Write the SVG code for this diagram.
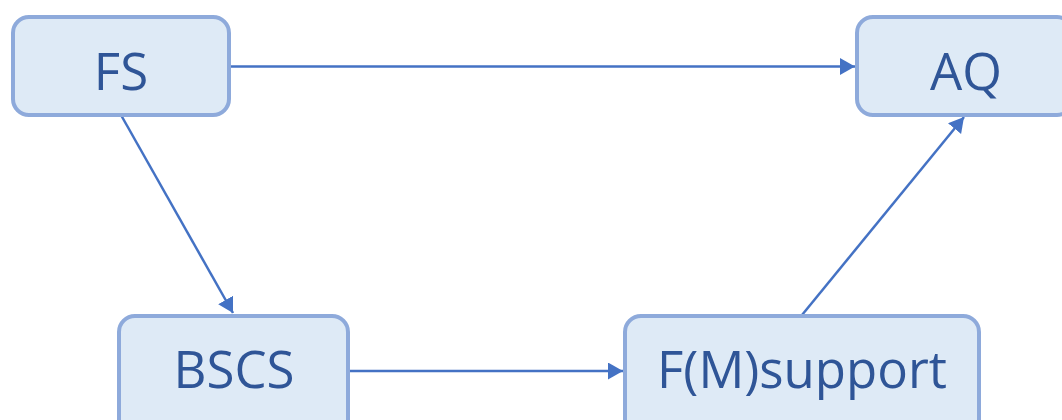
<svg xmlns="http://www.w3.org/2000/svg" width="1062" height="420" viewBox="0 0 1062 420">
  <style>
    .box { fill: #DEEAF6; stroke: #8EAADB; stroke-width: 4; }
    .lbl { font-family: "Open Sans", "Liberation Sans", sans-serif; font-size: 51px; fill: #2F5597; text-anchor: middle; }
    .edge { stroke: #4472C4; stroke-width: 2.5; fill: none; }
  </style>
  <defs>
    <marker id="arr" markerUnits="userSpaceOnUse" markerWidth="17" markerHeight="18" refX="15" refY="8.5" orient="auto">
      <path d="M0,0 L15,8.5 L0,17 Z" fill="#4472C4"/>
    </marker>
  </defs>
  <rect width="1062" height="420" fill="#FFFFFF"/>
  <g id="connectors">
    <line class="edge" x1="231" y1="66.5" x2="855" y2="66.5" marker-end="url(#arr)"/>
    <line class="edge" x1="121" y1="115" x2="233" y2="313" marker-end="url(#arr)"/>
    <line class="edge" x1="350" y1="371" x2="623" y2="371" marker-end="url(#arr)"/>
    <line class="edge" x1="802" y1="315" x2="964" y2="117" marker-end="url(#arr)"/>
  </g>
  <g id="node-FS">
    <rect class="box" x="13" y="17" width="216" height="98" rx="16"/>
    <text class="lbl" x="121" y="90">FS</text>
  </g>
  <g id="node-AQ">
    <rect class="box" x="857" y="17" width="216" height="98" rx="16"/>
    <text class="lbl" x="966" y="90">AQ</text>
  </g>
  <g id="node-BSCS">
    <rect class="box" x="119" y="316" width="229" height="120" rx="16"/>
    <text class="lbl" x="234" y="388">BSCS</text>
  </g>
  <g id="node-FMsupport">
    <rect class="box" x="625" y="316" width="354" height="120" rx="16"/>
    <text class="lbl" x="802" y="388">F(M)support</text>
  </g>
</svg>
